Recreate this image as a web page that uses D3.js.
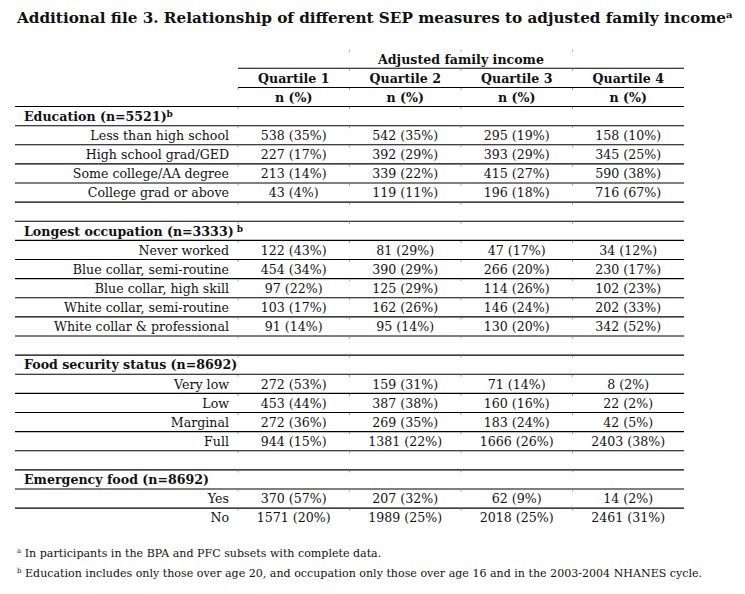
<!DOCTYPE html>
<html><head><meta charset="utf-8">
<script src="https://cdn.jsdelivr.net/npm/d3@7"></script>
<style>
html,body{margin:0;padding:0;background:#fff;}
svg text{font-family:"DejaVu Serif","Liberation Serif",serif;fill:#111;}
</style></head>
<body><svg id="c" width="745" height="594"></svg>
<script>
const titleText = "Additional file 3. Relationship of different SEP measures to adjusted family income";
const groupHeader = "Adjusted family income";
const quartiles = ["Quartile 1","Quartile 2","Quartile 3","Quartile 4"];
const unitLabel = "n (%)";

const eduTitle = "Education (n=5521)", eduSup = "b";
const eduCats = ["Less than high school","High school grad/GED","Some college/AA degree","College grad or above"];
const eduN   = [[538,542,295,158],[227,392,393,345],[213,339,415,590],[43,119,196,716]];
const eduPct = [[35,35,19,10],[17,29,29,25],[14,22,27,38],[4,11,18,67]];

const occTitle = "Longest occupation (n=3333)", occSup = "b";
const occCats = ["Never worked","Blue collar, semi-routine","Blue collar, high skill","White collar, semi-routine","White collar & professional"];
const occN   = [[122,81,47,34],[454,390,266,230],[97,125,114,102],[103,162,146,202],[91,95,130,342]];
const occPct = [[43,29,17,12],[34,29,20,17],[22,29,26,23],[17,26,24,33],[14,14,20,52]];

const foodTitle = "Food security status (n=8692)", foodSup = "";
const foodCats = ["Very low","Low","Marginal","Full"];
const foodN   = [[272,159,71,8],[453,387,160,22],[272,269,183,42],[944,1381,1666,2403]];
const foodPct = [[53,31,14,2],[44,38,16,2],[36,35,24,5],[15,22,26,38]];

const emerTitle = "Emergency food (n=8692)", emerSup = "";
const emerCats = ["Yes","No"];
const emerN   = [[370,207,62,14],[1571,1989,2018,2461]];
const emerPct = [[57,32,9,2],[20,25,25,31]];

const footnotes = [
  {sup:"a", text:"In participants in the BPA and PFC subsets with complete data."},
  {sup:"b", text:"Education includes only those over age 20, and occupation only those over age 16 and in the 2003-2004 NHANES cycle."}
];

const sections = [
  {title:eduTitle, sup:eduSup, supGap:false, cats:eduCats, n:eduN, pct:eduPct},
  {title:occTitle, sup:occSup, supGap:true, cats:occCats, n:occN, pct:occPct},
  {title:foodTitle, sup:foodSup, supGap:false, cats:foodCats, n:foodN, pct:foodPct},
  {title:emerTitle, sup:emerSup, supGap:false, cats:emerCats, n:emerN, pct:emerPct}
];

const rows = [];
rows.push({type:"group"});
rows.push({type:"quart"});
rows.push({type:"unit"});
sections.forEach((s,si)=>{
  if(si>0) rows.push({type:"blank"});
  rows.push({type:"sec", s});
  s.cats.forEach((c,i)=>rows.push({type:"data", label:c, n:s.n[i], pct:s.pct[i]}));
});

const svg = d3.select("#c");
const left = 15, labelRight = 229, tableRight = 684, colStart = 238;
const rowH = 19.12, top0 = 49.2;
const y = d3.scaleLinear().domain([0, rows.length]).range([top0, top0 + rows.length*rowH]);
const x = d3.scaleBand().domain(quartiles).range([colStart, tableRight]);
const fs = 12.6;

function fitSize(node, size, target){
  const w = node.getComputedTextLength();
  return size * target / w;
}

// title: taller bold glyphs compressed to the reference width
const t = svg.append("text").attr("x", 17).attr("y", 23.3)
  .style("font-weight","bold").style("font-size","15.2px");
t.append("tspan").text(titleText)
  .attr("textLength", 709).attr("lengthAdjust","spacingAndGlyphs");
t.append("tspan").text("a").style("font-size","10px").attr("dy",-5);

// lines
const lineRows = rows.map((r,i)=>i).filter(i=>i < rows.length-1);
svg.selectAll("line.h").data(lineRows).join("line")
  .attr("x1", i => i < 2 ? colStart : left)
  .attr("x2", tableRight)
  .attr("y1", i => y(i+1)).attr("y2", i => y(i+1))
  .attr("stroke","#000").attr("stroke-width",1.1);

// faint boundary ticks
const bounds = quartiles.map(q=>x(q));
d3.range(0, rows.length).forEach(i=>{
  bounds.forEach((b,bi)=>{
    if(i < 2 && bi===0) return;
    svg.append("line").attr("x1",b).attr("x2",b)
      .attr("y1", y(i)+0.5).attr("y2", y(i)+2.5)
      .attr("stroke","#888").attr("stroke-width",0.8);
  });
});

const baseOff = rowH - 4.8;
rows.forEach((r,i)=>{
  const by = y(i) + baseOff;
  if(r.type==="group"){
    svg.append("text").attr("x",(colStart+tableRight)/2).attr("y",by)
      .attr("text-anchor","middle").style("font-weight","bold").style("font-size",fs+"px").text(groupHeader);
  } else if(r.type==="quart" || r.type==="unit"){
    quartiles.forEach(q=>{
      svg.append("text").attr("x",x(q)+x.bandwidth()/2).attr("y",by)
        .attr("text-anchor","middle").style("font-weight","bold").style("font-size",fs+"px")
        .text(r.type==="quart" ? q : unitLabel);
    });
  } else if(r.type==="sec"){
    const tx = svg.append("text").attr("x",24).attr("y",by)
      .style("font-weight","bold").style("font-size",fs+"px");
    tx.append("tspan").text(r.s.title);
    if(r.s.sup){
      tx.append("tspan").text((r.s.supGap?" ":"")+r.s.sup).style("font-size","9px").attr("dy",-4);
    }
  } else if(r.type==="data"){
    svg.append("text").attr("x",labelRight).attr("y",by)
      .attr("text-anchor","end").style("font-size",fs+"px").text(r.label);
    quartiles.forEach((q,qi)=>{
      svg.append("text").attr("x",x(q)+x.bandwidth()/2).attr("y",by)
        .attr("text-anchor","middle").style("font-size",fs+"px")
        .text(`${r.n[qi]} (${r.pct[qi]}%)`);
    });
  }
});

// footnotes
const fnTarget = 686;
footnotes.forEach((f,i)=>{
  const tx = svg.append("text").attr("class","fn").attr("x",17).attr("y",557 + i*19.5).style("font-size","11px");
  tx.append("tspan").text(f.sup).style("font-size","7px").attr("dy",-4);
  tx.append("tspan").text(" "+f.text).attr("dy",4);
  if(i===1){
    const s = fitSize(tx.node(), 11, fnTarget);
    svg.selectAll(".fn").style("font-size", s+"px");
  }
});
</script></body></html>
